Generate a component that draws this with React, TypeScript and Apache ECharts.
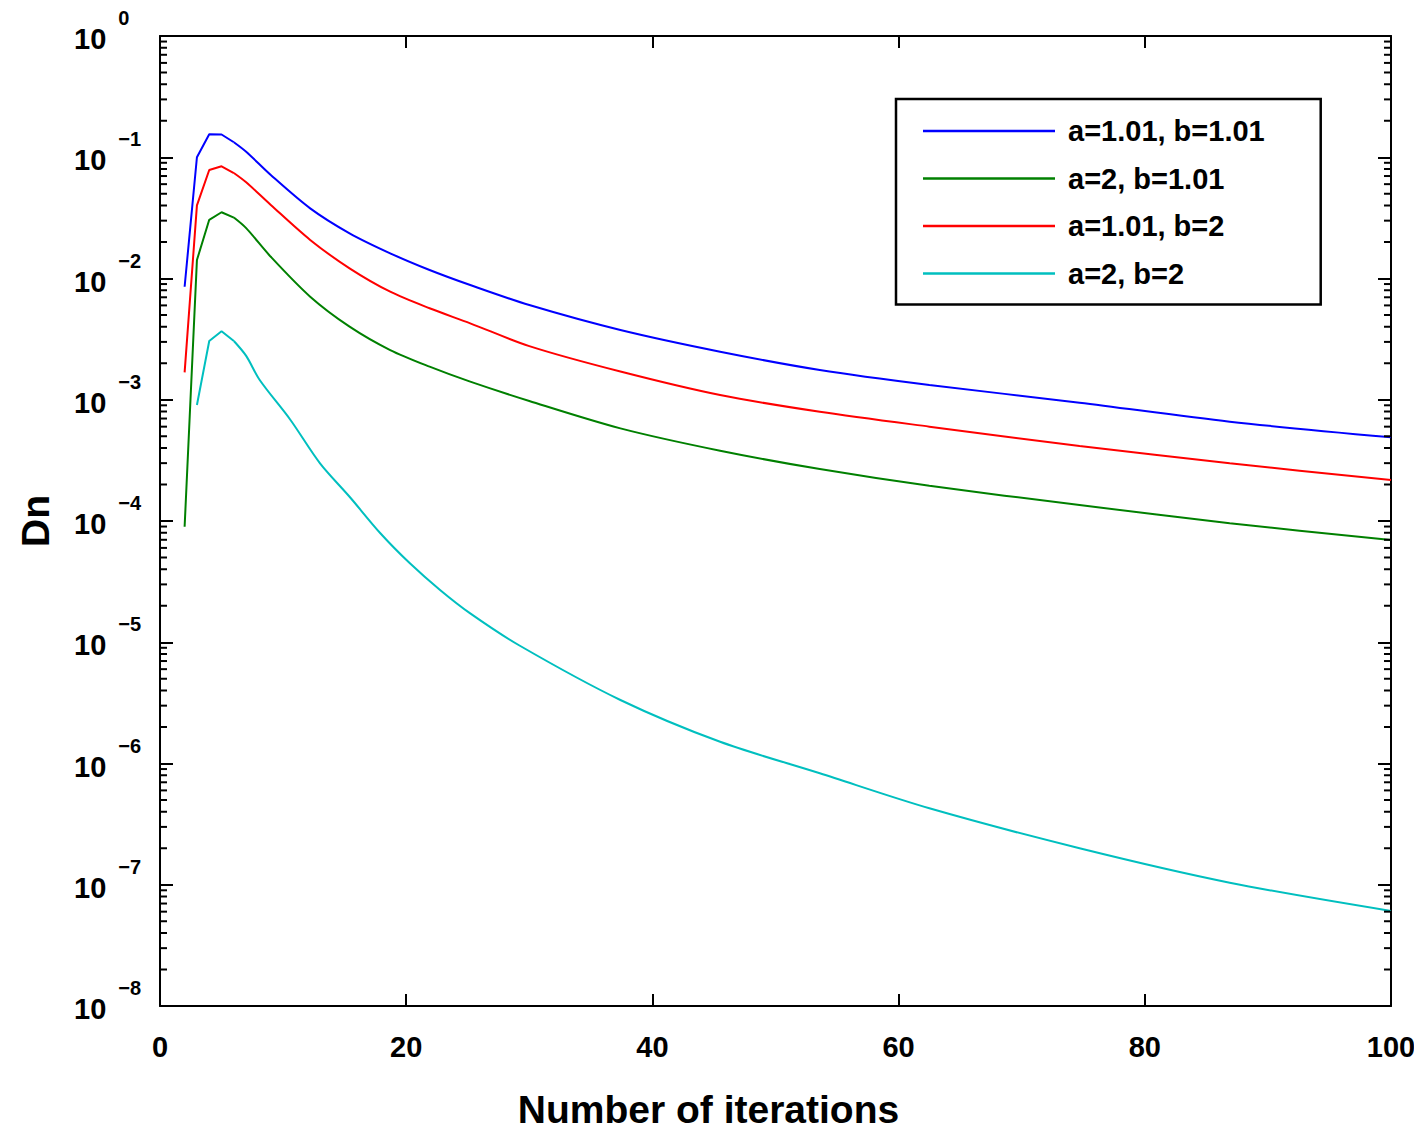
import React, { useEffect, useRef } from 'react';
import * as echarts from 'echarts';

const FONT = '"Liberation Sans", Arial, sans-serif';

// iteration numbers at which values were read (blue, green, red share them)
const xMain = [2, 3, 4, 5, 6, 7, 9, 12.2, 15.4, 18.7, 21.9, 25.2, 30, 37.4, 45.5, 53.6, 62.5, 74.7, 86.9, 100];
const blueVals = [0.00855, 0.1, 0.155, 0.154, 0.133, 0.111, 0.0714, 0.0379, 0.0236, 0.01614, 0.01175, 0.00883, 0.00604, 0.00376, 0.00249, 0.00176, 0.001324, 0.000946, 0.000659, 0.00049];
const greenVals = [8.97e-5, 0.0142, 0.0305, 0.0352, 0.0318, 0.026, 0.0151, 0.00708, 0.00401, 0.00257, 0.001875, 0.00141, 0.000977, 0.000581, 0.00038, 0.000268, 0.000195, 0.0001355, 9.57e-5, 6.97e-5];
const redVals = [0.00168, 0.0401, 0.0785, 0.0842, 0.0741, 0.0621, 0.0404, 0.0208, 0.01213, 0.00778, 0.00568, 0.00427, 0.00277, 0.00171, 0.001094, 0.000796, 0.0006, 0.000416, 0.000299, 0.000218];

const xCyan = [3, 4, 5, 6, 7, 8.1, 10.6, 13, 15.4, 17.9, 20.3, 22.75, 25.2, 29.2, 37.4, 45.5, 53.6, 62.5, 74.7, 86.9, 100];
const cyanVals = [9.05e-4, 3.05e-3, 3.67e-3, 3.05e-3, 2.3e-3, 1.455e-3, 6.81e-4, 2.99e-4, 1.585e-4, 7.93e-5, 4.48e-5, 2.7e-5, 1.73e-5, 9.4e-6, 3.34e-6, 1.51e-6, 8.3e-7, 4.27e-7, 2.0e-7, 1.04e-7, 6.08e-8];

const seriesNames = ['a=1.01, b=1.01', 'a=2, b=1.01', 'a=1.01, b=2', 'a=2, b=2'];
const seriesColors = ['#0000ff', '#008000', '#ff0000', '#00bfbf'];
// index where the sharp start of each curve ends and the smooth decay begins
const headEnd = [4, 4, 4, 3];

const yMajor = [1e-8, 1e-7, 1e-6, 1e-5, 1e-4, 1e-3, 1e-2, 1e-1, 1];
const yExponents = ['\u22128', '\u22127', '\u22126', '\u22125', '\u22124', '\u22123', '\u22122', '\u22121', '0'];
const yMinorMultipliers = [2, 3, 4, 5, 6, 7, 8, 9];
const yMinor: number[] = [];
for (let i = 0; i < yMajor.length - 1; i++) {
  for (const m of yMinorMultipliers) yMinor.push(Number((yMajor[i] * m).toPrecision(6)));
}

const xTicks = [0, 20, 40, 60, 80, 100];

function pair(xs: number[], ys: number[]) {
  return xs.map((x, i) => [x, ys[i]]);
}

export default function App() {
  const ref = useRef<HTMLDivElement>(null);
  useEffect(() => {
    if (!ref.current) return;
    const chart = echarts.init(ref.current, undefined, { renderer: 'svg' });
    const axisLine = { show: true, onZero: false, lineStyle: { color: '#000', width: 2 } };
    const expFor = (v: number) => {
      const idx = yMajor.findIndex((m) => Math.abs(Math.log10(m) - Math.log10(v)) < 1e-6);
      return idx >= 0 ? yExponents[idx] : '';
    };
    const baseY = {
      type: 'log' as const,
      logBase: 10,
      min: 1e-8,
      max: 1,
      splitNumber: 8,
      splitLine: { show: false },
      minorTick: { show: false },
    };
    const allData = [
      pair(xMain, blueVals),
      pair(xMain, greenVals),
      pair(xMain, redVals),
      pair(xCyan, cyanVals),
    ];
    const series: any[] = [];
    allData.forEach((d, i) => {
      const common = {
        name: seriesNames[i],
        type: 'line' as const,
        xAxisIndex: 0,
        yAxisIndex: 0,
        symbol: 'none',
        showSymbol: false,
        lineStyle: { color: seriesColors[i], width: 2 },
        itemStyle: { color: seriesColors[i] },
        z: 3,
      };
      series.push({ ...common, data: d.slice(0, headEnd[i] + 1) });
      series.push({ ...common, data: d.slice(headEnd[i]), smooth: 0.3 });
    });
    series.push({
      type: 'custom',
      name: 'minor ticks',
      xAxisIndex: 0,
      yAxisIndex: 0,
      silent: true,
      clip: false,
      z: 5,
      data: yMinor.map((v) => [0, v]),
      renderItem: (_params: any, api: any) => {
        const v = api.value(1);
        const pl = api.coord([0, v]);
        const pr = api.coord([100, v]);
        return {
          type: 'group',
          children: [
            { type: 'line', shape: { x1: pl[0], y1: pl[1], x2: pl[0] + 7, y2: pl[1] }, style: { stroke: '#000', lineWidth: 2 } },
            { type: 'line', shape: { x1: pr[0], y1: pr[1], x2: pr[0] - 7, y2: pr[1] }, style: { stroke: '#000', lineWidth: 2 } },
          ],
        };
      },
    });

    chart.setOption({
      animation: false,
      backgroundColor: '#fff',
      grid: { left: 160, right: 23, top: 36, bottom: 124, containLabel: false, outerBoundsMode: 'none' },
      legend: {
        orient: 'vertical',
        left: 896,
        top: 99,
        icon: 'rect',
        itemWidth: 132,
        itemHeight: 2.5,
        itemGap: 17.5,
        padding: [17, 56, 16, 27],
        borderColor: '#000',
        borderWidth: 2.5,
        backgroundColor: '#fff',
        data: seriesNames,
        textStyle: { fontFamily: FONT, fontSize: 29, fontWeight: 'bold', color: '#000', lineHeight: 30, padding: [0, 0, 0, 8] },
      },
      xAxis: [
        {
          type: 'value',
          position: 'bottom',
          min: 0,
          max: 100,
          interval: 20,
          axisLine,
          axisTick: { show: true, inside: true, length: 12, lineStyle: { color: '#000', width: 2 }, customValues: xTicks },
          axisLabel: { show: true, margin: 26, fontFamily: FONT, fontSize: 29, fontWeight: 'bold', color: '#000', customValues: xTicks },
          splitLine: { show: false },
          name: 'Number of iterations',
          nameLocation: 'middle',
          nameGap: 84,
          nameTextStyle: { fontFamily: FONT, fontSize: 39, fontWeight: 'bold', color: '#000', padding: [0, 134, 0, 0] },
        },
        {
          type: 'value',
          position: 'top',
          min: 0,
          max: 100,
          interval: 20,
          axisLine,
          axisTick: { show: true, inside: true, length: 12, lineStyle: { color: '#000', width: 2 }, customValues: xTicks },
          axisLabel: { show: false },
          splitLine: { show: false },
        },
      ],
      yAxis: [
        {
          ...baseY,
          position: 'left',
          axisLine,
          axisTick: { show: true, inside: true, length: 13, lineStyle: { color: '#000', width: 2 }, customValues: yMajor },
          axisLabel: {
            show: true,
            customValues: yMajor,
            align: 'left',
            margin: 86,
            formatter: (v: number) => `{b|10}{e|${expFor(v)}}`,
            rich: {
              b: { fontFamily: FONT, fontSize: 29, fontWeight: 'bold', color: '#000', padding: [6, 0, 0, 0] },
              e: { fontFamily: FONT, fontSize: 20, fontWeight: 'bold', color: '#000', padding: [0, 0, 36, 12] },
            },
          },
          name: 'Dn',
          nameLocation: 'middle',
          nameGap: 105,
          nameTextStyle: { fontFamily: FONT, fontSize: 39, fontWeight: 'bold', color: '#000' },
        },
        {
          ...baseY,
          position: 'right',
          axisLine,
          axisTick: { show: true, inside: true, length: 13, lineStyle: { color: '#000', width: 2 }, customValues: yMajor },
          axisLabel: { show: false },
        },
      ],
      series,
    });
    return () => chart.dispose();
  }, []);
  return <div ref={ref} style={{ position: 'absolute', left: 0, top: 0, width: 1414, height: 1130 }} />;
}
